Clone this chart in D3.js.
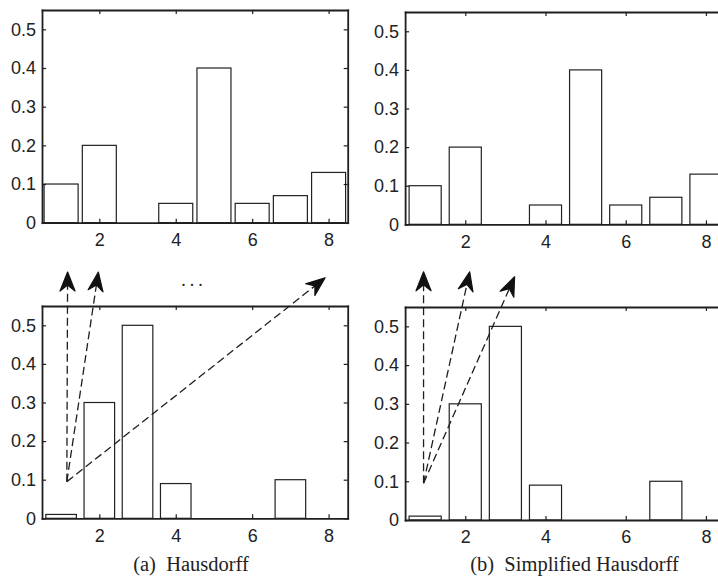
<!DOCTYPE html>
<html>
<head>
<meta charset="utf-8">
<script src="https://cdn.jsdelivr.net/npm/d3@7"></script>
<style>
  body { margin: 0; background: #fff; }
  svg { display: block; }
  .tick text { font-family: "Liberation Sans", Arial, Helvetica, sans-serif; font-size: 18px; fill: #222; }
  .axis path, .axis line { stroke: #1e1e1e; }
  .axis path { stroke-width: 1.8px; }
  .caption { font-family: "Liberation Serif", "Times New Roman", serif; font-size: 20.5px; fill: #222; }
</style>
</head>
<body>
<div id="chart"></div>
<script>
// histogram bins and values
const bins = [1, 2, 3, 4, 5, 6, 7, 8];
const histTop = [0.1, 0.2, 0, 0.05, 0.4, 0.05, 0.07, 0.13];
const histBottom = [0.01, 0.3, 0.5, 0.09, 0, 0, 0.1, 0];
const xTicks = [2, 4, 6, 8];
const yTicks = [0, 0.1, 0.2, 0.3, 0.4, 0.5];
const captions = ["(a)  Hausdorff", "(b)  Simplified Hausdorff"];

// dashed arrows, in the data space of the lower histogram
const arrowOriginA = [1.15, 0.095];
const arrowTipsA = [[1.17, 0.638], [1.975, 0.638], [7.91, 0.623]];
const arrowOriginB = [0.96, 0.095];
const arrowTipsB = [[0.96, 0.641], [2.11, 0.641], [3.23, 0.628]];

const W = 718, H = 578;
const svg = d3.select("#chart").append("svg")
    .attr("width", W)
    .attr("height", H);

function drawPanel(cfg) {
    let x = d3.scaleLinear().domain([0.5, 8.5]).range([cfg.x0, cfg.x1]);
    let y = d3.scaleLinear().domain([0, 0.55]).range([cfg.y0, cfg.y1]);
    let g = svg.append("g");

    // bars
    g.selectAll(".bar")
        .data(bins.map((b, i) => ({bin: b, v: cfg.values[i]})))
        .enter().append("rect")
        .attr("class", "bar")
        .attr("x", d => x(d.bin - cfg.barWidth / 2))
        .attr("width", d => x(d.bin + cfg.barWidth / 2) - x(d.bin - cfg.barWidth / 2))
        .attr("y", d => y(d.v))
        .attr("height", d => y(0) - y(d.v))
        .attr("fill", "#fff")
        .attr("stroke", "#222")
        .attr("stroke-width", 1.2);

    // axes, ticks pointing inwards (matlab style box)
    g.append("g").attr("class", "axis")
        .attr("transform", `translate(0,${cfg.y0})`)
        .call(d3.axisBottom(x).tickValues(xTicks).tickSizeInner(-4).tickSizeOuter(0)
            .tickPadding(10.5).tickFormat(d3.format("d")));
    g.append("g").attr("class", "axis")
        .attr("transform", `translate(0,${cfg.y1})`)
        .call(d3.axisTop(x).tickValues(xTicks).tickSizeInner(-4).tickSizeOuter(0).tickFormat(""));
    g.append("g").attr("class", "axis")
        .attr("transform", `translate(${cfg.x0},0)`)
        .call(d3.axisLeft(y).tickValues(yTicks).tickSizeInner(-4).tickSizeOuter(0)
            .tickPadding(6).tickFormat(d => d === 0 ? "0" : d3.format(".1f")(d)));
    g.append("g").attr("class", "axis")
        .attr("transform", `translate(${cfg.x1},0)`)
        .call(d3.axisRight(y).tickValues(yTicks).tickSizeInner(-4).tickSizeOuter(0).tickFormat(""));

    g.selectAll(".axis .tick line").attr("stroke-width", 1.2);
    g.selectAll(".axis .domain").attr("stroke-linecap", "square");

    return {x: x, y: y, g: g};
}

function drawArrows(p, origin, tips) {
    let ox = p.x(origin[0]), oy = p.y(origin[1]);
    let len = 19, half = 7.5, notch = 6;
    tips.forEach(t => {
        let tx = p.x(t[0]), ty = p.y(t[1]);
        let ang = Math.atan2(ty - oy, tx - ox);
        let ux = Math.cos(ang), uy = Math.sin(ang);
        let nx = -uy, ny = ux;
        let bx = tx - ux * len, by = ty - uy * len;
        let mx = tx - ux * (len - notch), my = ty - uy * (len - notch);

        p.g.append("line")
            .attr("x1", ox).attr("y1", oy)
            .attr("x2", mx).attr("y2", my)
            .attr("stroke", "#1e1e1e")
            .attr("stroke-width", 1.3)
            .attr("stroke-dasharray", "8,4");

        p.g.append("path")
            .attr("d", d3.line()([
                [tx, ty],
                [bx + nx * half, by + ny * half],
                [mx, my],
                [bx - nx * half, by - ny * half]
            ]) + "Z")
            .attr("fill", "#111")
            .attr("stroke", "#111")
            .attr("stroke-width", 1.2)
            .attr("stroke-linejoin", "round");
    });
}

drawPanel({x0: 42, x1: 347.7, y0: 222.7, y1: 10, values: histTop, barWidth: 0.89});
drawPanel({x0: 405.1, x1: 726, y0: 224.3, y1: 12, values: histTop, barWidth: 0.8});
let pa = drawPanel({x0: 42, x1: 347.7, y0: 518.3, y1: 306, values: histBottom, barWidth: 0.8});
let pb = drawPanel({x0: 405.1, x1: 726, y0: 520, y1: 307, values: histBottom, barWidth: 0.8});

drawArrows(pa, arrowOriginA, arrowTipsA);
drawArrows(pb, arrowOriginB, arrowTipsB);

// ellipsis between the arrows of panel (a)
svg.append("text")
    .attr("x", 194)
    .attr("y", 286)
    .attr("text-anchor", "middle")
    .attr("font-family", "Liberation Serif, Times New Roman, serif")
    .attr("font-size", 18)
    .attr("letter-spacing", "4px")
    .attr("fill", "#222")
    .text("...");

svg.selectAll(".caption")
    .data(captions)
    .enter().append("text")
    .attr("class", "caption")
    .attr("x", (d, i) => i === 0 ? 191 : 574.5)
    .attr("y", 571)
    .attr("text-anchor", "middle")
    .attr("xml:space", "preserve")
    .style("white-space", "pre")
    .text(d => d);
</script>
</body>
</html>
